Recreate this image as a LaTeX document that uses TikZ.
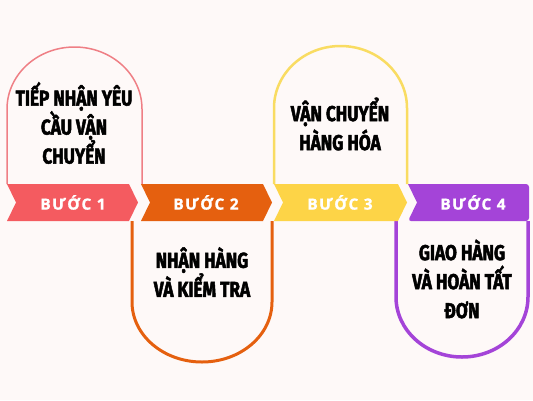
\documentclass[tikz,border=0pt]{standalone}
\usepackage{fontspec}
\newfontfamily\headfont[FakeStretch=0.8, BoldFeatures={FakeBold=2.2}]{Fira Sans}
\newfontfamily\bandfont[LetterSpace=9, BoldFeatures={FakeBold=1}]{Open Sans}
\definecolor{bgc}{HTML}{FEF9F8}
\definecolor{redc}{HTML}{F45B60}
\definecolor{redline}{HTML}{EF7F85}
\definecolor{orangec}{HTML}{E5600F}
\definecolor{yellowc}{HTML}{FDD447}
\definecolor{yellowline}{HTML}{F9DC62}
\definecolor{purplec}{HTML}{A444D8}
\tikzset{
  headtext/.style={align=center, font=\headfont\bfseries\fontsize{21.5}{29}\selectfont, text=black, inner sep=0pt},
  bandtext/.style={font=\bandfont\bfseries\fontsize{15.5}{18}\selectfont, text=white, inner sep=0pt},
  archbox/.style={fill=bgc, line join=round}
}
\begin{document}
\begin{tikzpicture}[x=1pt,y=-1pt]
\fill[bgc] (0,0) rectangle (533,400);
\useasboundingbox (0,0) rectangle (533,400);
% boxes
\draw[archbox, draw=redline, line width=1.5pt] (7,184) -- (7,109) arc[start angle=180,end angle=0,x radius=67.5pt,y radius=62pt] -- (142,184);
\draw[archbox, draw=yellowline, line width=2.5pt] (274,184) -- (274,108) arc[start angle=180,end angle=0,x radius=66.5pt,y radius=62pt] -- (407,184);
\draw[archbox, draw=orangec, line width=3pt] (132,221) -- (132,302) arc[start angle=180,end angle=360,x radius=70pt,y radius=60pt] -- (272,221);
\draw[archbox, draw=purplec, line width=3.5pt] (396,221) -- (396,297) arc[start angle=180,end angle=360,x radius=66pt,y radius=60pt] -- (528,221);
% bands
\fill[redc] (7,184) -- (129,184) -- (138,202.5) -- (129,221) -- (7,221) -- (16,202.5) -- cycle;
\fill[orangec] (141,184) -- (263,184) -- (272,202.5) -- (263,221) -- (141,221) -- (150,202.5) -- cycle;
\fill[yellowc] (274,184) -- (398,184) -- (407,202.5) -- (398,221) -- (274,221) -- (283,202.5) -- cycle;
\fill[purplec, rounded corners=3pt] (408,184) -- (529,184) -- (529,221) -- (408,221) [sharp corners] -- (417,202.5) -- cycle;
% band labels
\node[bandtext] (b1) at (73,202.5) {BƯỚC 1};
\node[bandtext] (b2) at (206,202.5) {BƯỚC 2};
\node[bandtext] (b3) at (340,202.5) {BƯỚC 3};
\node[bandtext] (b4) at (473,202.5) {BƯỚC 4};
% headlines
\node[headtext] (t1) at (74,123) {TIẾP NHẬN YÊU\\CẦU VẬN\\CHUYỂN};
\node[headtext] (t3) at (340,124) {VẬN CHUYỂN\\HÀNG HÓA};
\node[headtext] (t2) at (202,272) {NHẬN HÀNG\\VÀ KIỂM TRA};
\node[headtext] (t4) at (462,279) {GIAO HÀNG\\VÀ HOÀN TẤT\\ĐƠN};
\end{tikzpicture}
\end{document}
